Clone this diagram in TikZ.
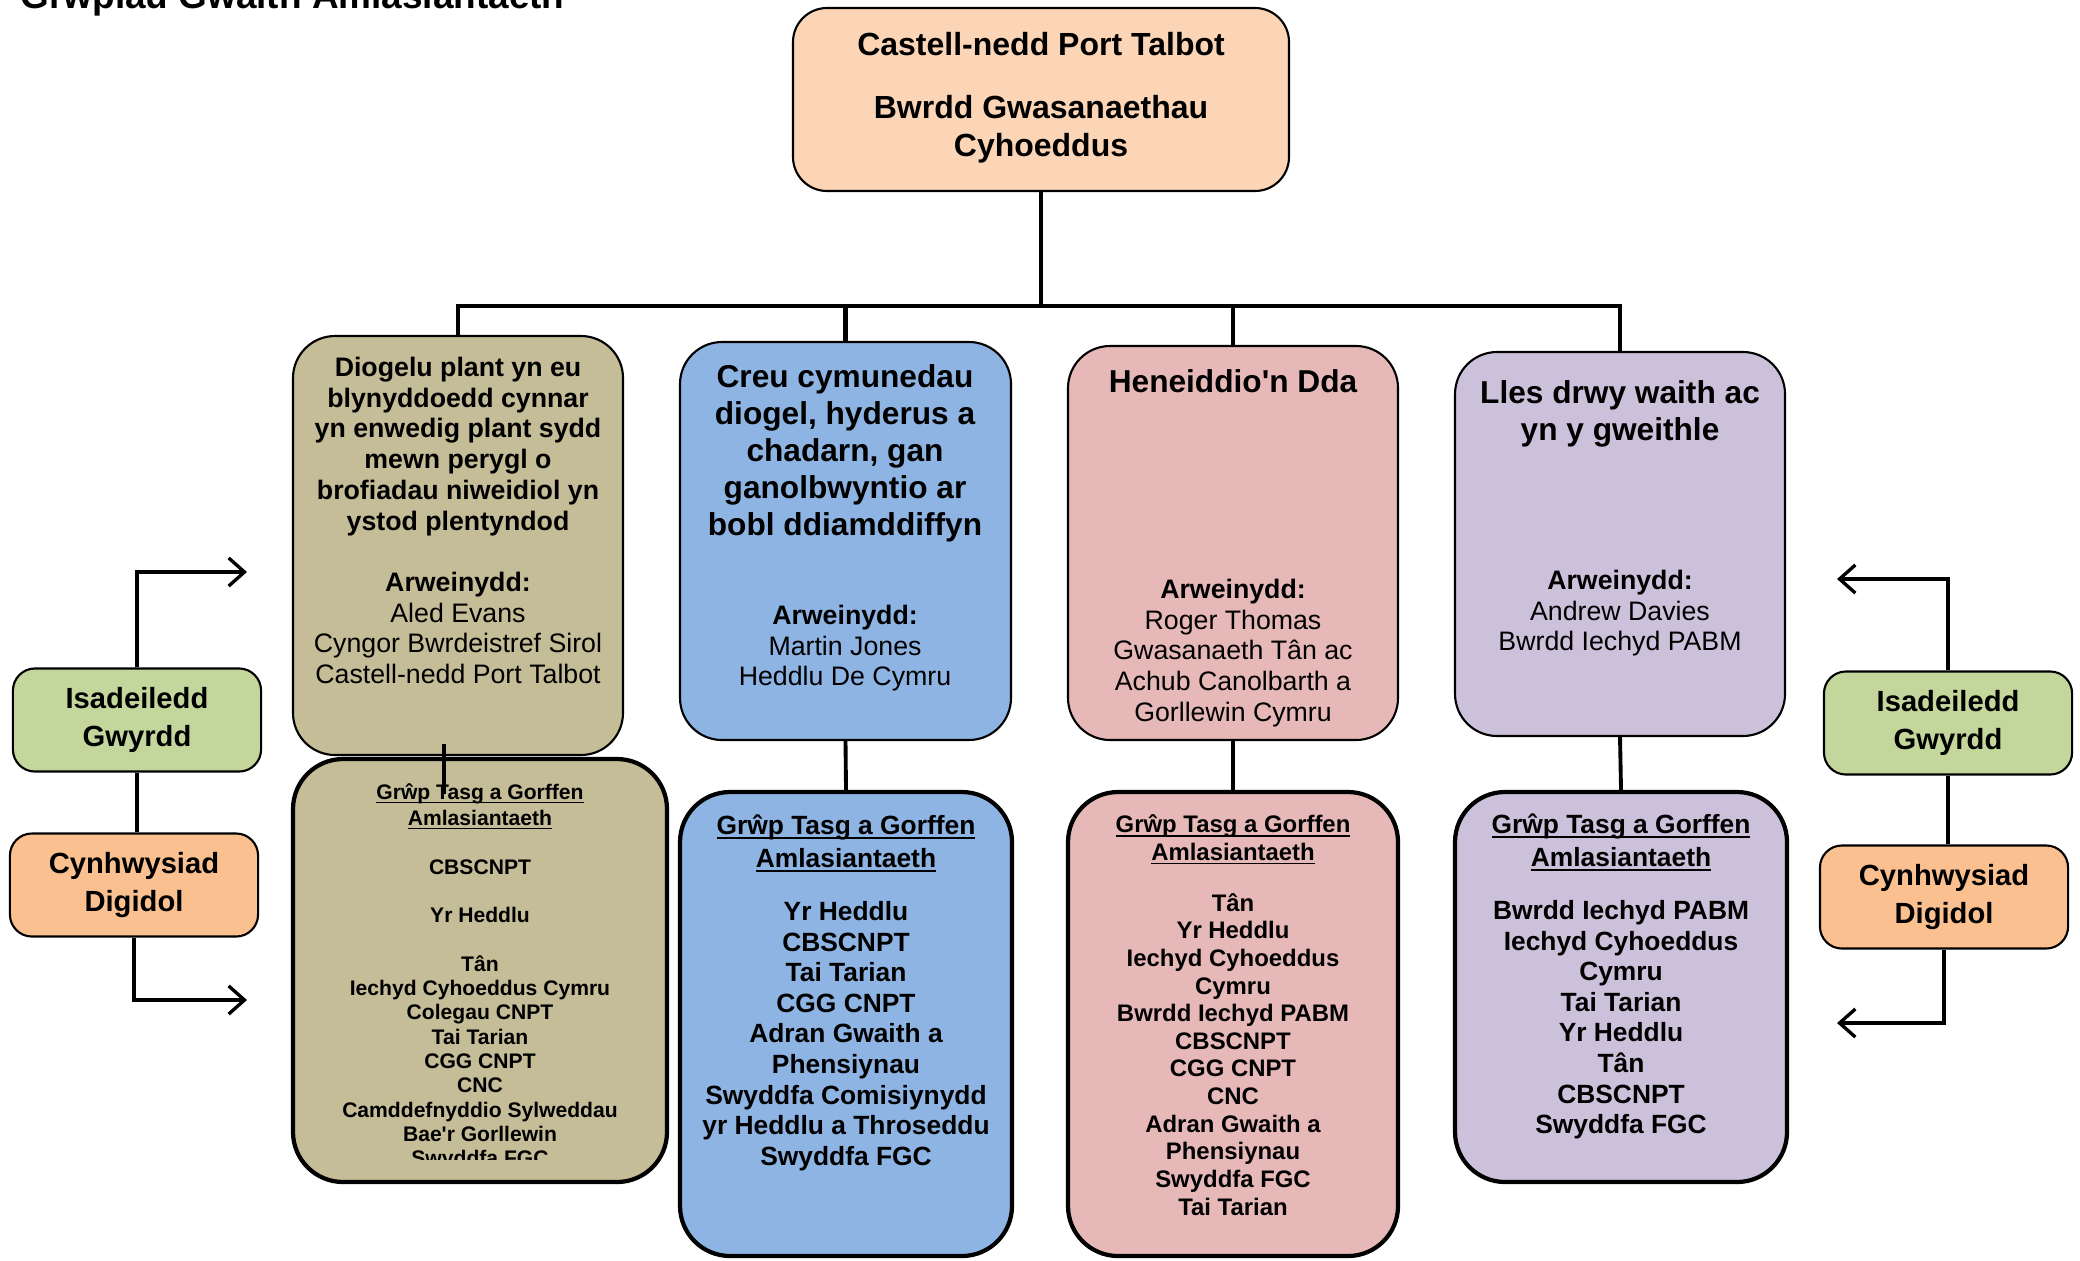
\documentclass[tikz,border=0pt]{standalone}
\usepackage{fontspec}
\setmainfont{Liberation Sans}[Ligatures=TeXOff]
\usetikzlibrary{arrows.meta,fit,calc}

\definecolor{peach}{HTML}{FBD5B5}
\definecolor{khaki}{HTML}{C4BD97}
\definecolor{sky}{HTML}{8EB4E3}
\definecolor{rose}{HTML}{E6B9B8}
\definecolor{lilac}{HTML}{CCC1DA}
\definecolor{leaf}{HTML}{C3D69B}
\definecolor{apricot}{HTML}{FAC090}

% underline that runs through the descenders
\newcommand{\grpline}[1]{\setbox0=\hbox{#1}\rlap{\vrule height -0.1em depth 0.17em width \wd0}\box0}

\tikzset{
  topbox/.style={draw, line width=0.6pt, rounded corners=0.34cm, fill=peach, inner sep=0pt},
  aimbox/.style={draw, line width=0.6pt, rounded corners=0.42cm, inner sep=0pt},
  grpbox/.style={draw, line width=1.2pt, rounded corners=0.5cm, inner sep=0pt},
  sidebox/.style={draw, line width=0.6pt, rounded corners=0.22cm, inner sep=0pt, align=center,
    minimum width=2.48cm, minimum height=1.03cm, font=\fontsize{8.3}{11}\selectfont\bfseries},
  headtxt/.style={anchor=north, inner sep=0pt, align=center, font=\fontsize{9}{10.5}\selectfont\bfseries},
  leadtxt/.style={anchor=north, inner sep=0pt, align=center, font=\fontsize{7.6}{8.8}\selectfont},
  listtxt/.style={anchor=north, inner sep=0pt, align=center},
  tree/.style={line width=1.3pt},
  rowlink/.style={line width=1.1pt},
  sidearrow/.style={line width=0.95pt, -{Straight Barb[length=4.5pt, width=8pt, line width=0.95pt]}}
}

\begin{document}
\begin{tikzpicture}[x=0.01cm, y=-0.01cm]
\useasboundingbox (0,0) rectangle (2080,1260);

% heading, cut by the top edge
\node[anchor=base west, inner sep=0pt, font=\fontsize{10.5}{12}\selectfont\bfseries] (title) at (20,8) {Grwpiau Gwaith Amlasiantaeth};

% board
\node[topbox, fit={(793,8) (1289,191)}] (psb) {};
\node[headtxt, font=\fontsize{9.1}{11}\selectfont\bfseries] (psbt) at (1041,32)
  {Castell-nedd Port Talbot\\[6.7pt]Bwrdd Gwasanaethau\\Cyhoeddus};

% objectives
\node[aimbox, fill=khaki, fit={(293,336) (623,755)}] (aim1) {};
\node[aimbox, fill=sky, fit={(680,342) (1011,740)}] (aim2) {};
\node[aimbox, fill=rose, fit={(1068,346) (1398,740)}] (aim3) {};
\node[aimbox, fill=lilac, fit={(1455,352) (1785,736)}] (aim4) {};

\node[headtxt, font=\fontsize{7.6}{8.8}\selectfont\bfseries] (aim1h) at (458,356)
  {Diogelu plant yn eu\\blynyddoedd cynnar\\yn enwedig plant sydd\\mewn perygl o\\brofiadau niweidiol yn\\ystod plentyndod};
\node[leadtxt] (aim1l) at (458,571)
  {\textbf{Arweinydd:}\\Aled Evans\\Cyngor Bwrdeistref Sirol\\Castell-nedd Port Talbot};
\node[headtxt] (aim2h) at (845,364)
  {Creu cymunedau\\diogel, hyderus a\\chadarn, gan\\ganolbwyntio ar\\bobl ddiamddiffyn};
\node[leadtxt] (aim2l) at (845,604) {\textbf{Arweinydd:}\\Martin Jones\\Heddlu De Cymru};
\node[headtxt] (aim3h) at (1233,369) {Heneiddio'n Dda};
\node[leadtxt] (aim3l) at (1233,578)
  {\textbf{Arweinydd:}\\Roger Thomas\\Gwasanaeth Tân ac\\Achub Canolbarth a\\Gorllewin Cymru};
\node[headtxt] (aim4h) at (1620,380) {Lles drwy waith ac\\yn y gweithle};
\node[leadtxt] (aim4l) at (1620,569) {\textbf{Arweinydd:}\\Andrew Davies\\Bwrdd Iechyd PABM};

% task groups
\node[grpbox, fill=khaki, fit={(293,759) (667,1182)}] (grp1) {};
\node[grpbox, fill=sky, fit={(680,792) (1012,1256)}] (grp2) {};
\node[grpbox, fill=rose, fit={(1068,792) (1398,1256)}] (grp3) {};
\node[grpbox, fill=lilac, fit={(1455,792) (1787,1182)}] (grp4) {};

\begin{scope}
\clip (293,700) rectangle (667,1159);
\node[listtxt, font=\fontsize{6}{6.9}\selectfont\bfseries] (grp1t) at (480,783)
  {\grpline{Grŵp Tasg a Gorffen}\\[0.6pt]\grpline{Amlasiantaeth}\\[6.9pt]CBSCNPT\\[6.9pt]Yr Heddlu\\[6.9pt]Tân\\
   Iechyd Cyhoeddus Cymru\\Colegau CNPT\\Tai Tarian\\CGG CNPT\\CNC\\Camddefnyddio Sylweddau\\Bae'r Gorllewin\\Swyddfa FGC};
\end{scope}
\node[listtxt, font=\fontsize{7.5}{8.7}\selectfont\bfseries] (grp2t) at (846,814)
  {\grpline{Grŵp Tasg a Gorffen}\\[0.7pt]\grpline{Amlasiantaeth}\\[6.4pt]Yr Heddlu\\CBSCNPT\\Tai Tarian\\CGG CNPT\\
   Adran Gwaith a\\Phensiynau\\Swyddfa Comisiynydd\\yr Heddlu a Throseddu\\Swyddfa FGC};
\node[listtxt, font=\fontsize{6.8}{7.85}\selectfont\bfseries] (grp3t) at (1233,814)
  {\grpline{Grŵp Tasg a Gorffen}\\\grpline{Amlasiantaeth}\\[6.7pt]Tân\\Yr Heddlu\\Iechyd Cyhoeddus\\Cymru\\
   Bwrdd Iechyd PABM\\CBSCNPT\\CGG CNPT\\CNC\\Adran Gwaith a\\Phensiynau\\Swyddfa FGC\\Tai Tarian};
\node[listtxt, font=\fontsize{7.5}{8.7}\selectfont\bfseries] (grp4t) at (1621,813)
  {\grpline{Grŵp Tasg a Gorffen}\\[0.7pt]\grpline{Amlasiantaeth}\\[6.4pt]Bwrdd Iechyd PABM\\Iechyd Cyhoeddus\\Cymru\\
   Tai Tarian\\Yr Heddlu\\Tân\\CBSCNPT\\Swyddfa FGC};

% tree
\draw[tree] (psb.south) -- ++(0,114) coordinate (hub);
\draw[tree] (aim1.north) |- (hub) -| (aim4.north);
\draw[tree] (aim2.north) -- (aim2.north |- hub);
\draw[tree] (aim3.north) -- (aim3.north |- hub);
\draw[line width=0.9pt] ($(aim1.south)+(-14,-12)$) -- ($(aim1.south)+(-14,38)$);
\draw[rowlink] (aim2.south) -- (grp2.north);
\draw[rowlink] (aim3.south) -- (grp3.north);
\draw[rowlink] (aim4.south) -- (grp4.north);

% cross-cutting themes
\node[sidebox, fill=leaf] (gin1) at (137,720) {Isadeiledd\\Gwyrdd};
\node[sidebox, fill=apricot] (dig1) at (134,885) {Cynhwysiad\\Digidol};
\node[sidebox, fill=leaf] (gin2) at (1948,723) {Isadeiledd\\Gwyrdd};
\node[sidebox, fill=apricot] (dig2) at (1944,897) {Cynhwysiad\\Digidol};

\coordinate (lin) at (247,572);
\coordinate (lout) at (247,1000);
\coordinate (rin) at (1837,579);
\coordinate (rout) at (1837,1023);

\draw[sidearrow] (gin1.north) |- (lin);
\draw[line width=0.95pt] (gin1.south) -- (gin1.south |- dig1.north);
\draw[sidearrow] (dig1.south) |- (lout);
\draw[sidearrow] (gin2.north) |- (rin);
\draw[line width=0.95pt] (gin2.south) -- (gin2.south |- dig2.north);
\draw[sidearrow] (dig2.south) |- (rout);

\end{tikzpicture}
\end{document}
